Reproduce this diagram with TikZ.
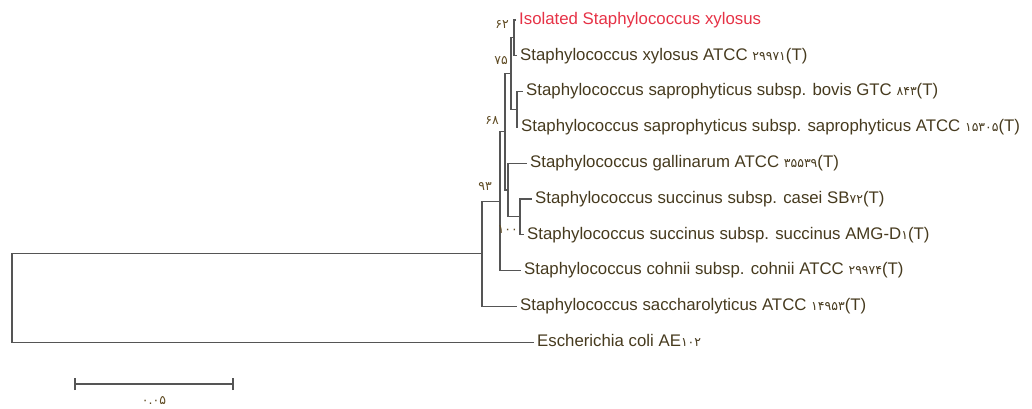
\documentclass[tikz,border=0pt]{standalone}
\usepackage{fontspec}
\setmainfont{Liberation Sans}
\newfontfamily\pdig{DejaVu Sans}
\definecolor{txt}{RGB}{70,58,30}
\definecolor{bootc}{RGB}{95,75,35}
\definecolor{redtxt}{RGB}{230,50,70}
\definecolor{ln}{RGB}{85,85,85}
\newcommand{\pd}[1]{{\pdig\fontsize{12.5}{12.5}\selectfont #1}}
\begin{document}
\begin{tikzpicture}[x=1pt,y=-1pt,
  leaf/.style={anchor=west, inner xsep=3pt, inner ysep=0pt, text height=12pt, text depth=3.5pt, text=txt, font=\fontsize{16.8}{18}\selectfont},
  br/.style={draw=ln, line width=1.1pt},
  boot/.style={anchor=east, inner sep=0pt, text=bootc, font=\pdig\fontsize{12.5}{12.5}\selectfont}]
\useasboundingbox (0,0) rectangle (1032,408);
% leaves
\node[leaf, text=redtxt] (l1) at (516,20) {Isolated Staphylococcus xylosus};
\node[leaf] (l2) at (517,55.8) {Staphylococcus xylosus ATCC \pd{۲۹۹۷۱}(T)};
\node[leaf] (l3) at (523,91.6) {Staphylococcus saprophyticus subsp. bovis GTC \pd{۸۴۳}(T)};
\node[leaf] (l4) at (518,127.4) {Staphylococcus saprophyticus subsp. saprophyticus ATCC \pd{۱۵۳۰۵}(T)};
\node[leaf] (l5) at (527,163.2) {Staphylococcus gallinarum ATCC \pd{۳۵۵۳۹}(T)};
\node[leaf] (l6) at (532,199) {Staphylococcus succinus subsp. casei SB\pd{۷۲}(T)};
\node[leaf] (l7) at (524,234.8) {Staphylococcus succinus subsp. succinus AMG-D\pd{۱}(T)};
\node[leaf] (l8) at (521,270.6) {Staphylococcus cohnii subsp. cohnii ATCC \pd{۲۹۹۷۴}(T)};
\node[leaf] (l9) at (517,306.4) {Staphylococcus saccharolyticus ATCC \pd{۱۴۹۵۳}(T)};
\node[leaf] (l10) at (534,342.2) {Escherichia coli AE\pd{۱۰۲}};
% internal nodes
\coordinate (n62) at (514,37.9);
\coordinate (n68) at (517,109.5);
\coordinate (n75) at (511,73.7);
\coordinate (nD) at (520,216.9);
\coordinate (nE) at (508,190);
\coordinate (nF) at (505,131.9);
\coordinate (nB) at (500,201.2);
\coordinate (nA) at (482,253.8);
\coordinate (nR) at (12,298);
% branches
\draw[br] (nR) |- (nA);
\draw[br] (nR) |- (l10.west);
\draw[br] (nA) |- (nB);
\draw[br] (nA) |- (l9.west);
\draw[br] (nB) |- (nF);
\draw[br] (nB) |- (l8.west);
\draw[br] (nF) |- (n75);
\draw[br] (nF) |- (nE);
\draw[br] (n75) |- (n62);
\draw[br] (n75) |- (n68);
\draw[br] (n62) |- (l1.west);
\draw[br] (n62) |- (l2.west);
\draw[br] (n68) |- (l3.west);
\draw[br] (n68) |- (l4.west);
\draw[br] (nE) |- (l5.west);
\draw[br] (nE) |- (nD);
\draw[br] (nD) |- (l6.west);
\draw[br] (nD) |- (l7.west);
% bootstrap values
\node[boot] (b62) at (509,24) {۶۲};
\node[boot] (b75) at (508,61) {۷۵};
\node[boot] (b68) at (499,120) {۶۸};
\node[boot] (b93) at (492,186) {۹۳};
\node[boot] (b100) at (518,230) {۱۰۰};
% scale bar
\coordinate (s1) at (75,384);
\coordinate (s2) at (233,384);
\draw[br] (s1) -- (s2);
\draw[br] ([yshift=-6pt]s1) -- ([yshift=6pt]s1);
\draw[br] ([yshift=-6pt]s2) -- ([yshift=6pt]s2);
\node[boot, anchor=center] (sl) at (154,401) {۰.۰۵};
\end{tikzpicture}
\end{document}
